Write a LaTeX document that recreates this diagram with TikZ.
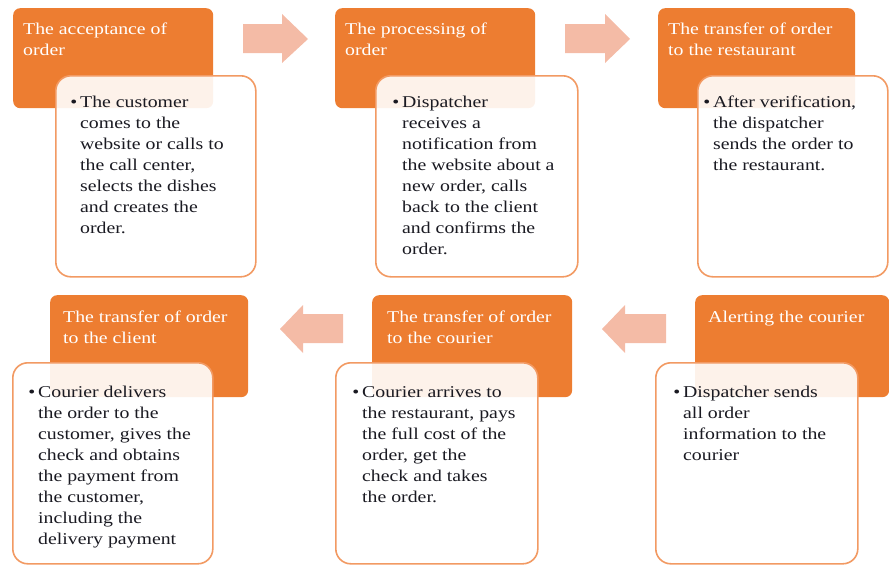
\documentclass[tikz,border=0pt]{standalone}
\usepackage{fontspec}
\setmainfont{Liberation Serif}[FakeStretch=1.2]
\definecolor{obg}{HTML}{ED7D31}
\definecolor{oline}{HTML}{F29A63}
\definecolor{arr}{HTML}{F4BBA6}
\definecolor{txt}{HTML}{1A1A22}
\begin{document}
\begin{tikzpicture}[x=1pt,y=-1pt,
  obox/.style={fill=obg,draw=none,rounded corners=7pt,anchor=north west,inner sep=0pt,
     minimum width=200pt,minimum height=100pt},
  wbox/.style={fill=white,fill opacity=0.9,draw=oline,draw opacity=1,line width=1.6pt,
     rounded corners=15pt,anchor=north west,inner sep=0pt,minimum width=200pt,minimum height=201pt},
  ttl/.style={anchor=base west,inner sep=0pt,align=left,text=white,
     font=\fontsize{16.5}{21.5}\selectfont},
  body/.style={anchor=base west,inner sep=0pt,align=left,text=txt,
     font=\fontsize{16.5}{21}\selectfont},
  blockarrow/.style={fill=arr,draw=none}]
\useasboundingbox (0,0) rectangle (889,565);
\newcommand{\bul}{\llap{\textbullet\hspace{3pt}}}
% orange title boxes
\node[obox] (o1) at (13,8) {};
\node[obox] (o2) at (335,8) {};
\node[obox,minimum width=197pt] (o3) at (658,8) {};
\node[obox,minimum width=198pt,minimum height=102pt] (o4) at (50,295) {};
\node[obox,minimum height=102pt] (o5) at (372,295) {};
\node[obox,minimum width=194pt,minimum height=102pt] (o6) at (695,295) {};
% titles (anchored at the baseline of their last line)
\node[ttl] (t1) at (23,55.5) {The acceptance of\\order};
\node[ttl] (t2) at (345,55.5) {The processing of\\order};
\node[ttl] (t3) at (668,55.5) {The transfer of order\\to the restaurant};
\node[ttl] (t4) at (63,343.5) {The transfer of order\\to the client};
\node[ttl] (t5) at (387,343.5) {The transfer of order\\to the courier};
\node[ttl] (t6) at (708,322) {Alerting the courier};
% white detail boxes
\node[wbox] (w1) at (55,75) {};
\node[wbox,minimum width=202pt] (w2) at (375,75) {};
\node[wbox,minimum width=190pt] (w3) at (697,75) {};
\node[wbox] (w4) at (12,362) {};
\node[wbox,minimum width=202pt] (w5) at (335,362) {};
\node[wbox,minimum width=202pt] (w6) at (655,362) {};
% body texts (anchored at the baseline of their last line)
\node[body] (b1) at (80,233) {\bul The customer\\comes to the\\website or calls to\\the call center,\\selects the dishes\\and creates the\\order.};
\node[body] (b2) at (402,254) {\bul Dispatcher\\receives a\\notification from\\the website about a\\new order, calls\\back to the client\\and confirms the\\order.};
\node[body] (b3) at (713,170) {\bul After verification,\\the dispatcher\\sends the order to\\the restaurant.};
\node[body] (b4) at (38,544) {\bul Courier delivers\\the order to the\\customer, gives the\\check and obtains\\the payment from\\the customer,\\including the\\delivery payment};
\node[body] (b5) at (362,502) {\bul Courier arrives to\\the restaurant, pays\\the full cost of the\\order, get the\\check and takes\\the order.};
\node[body] (b6) at (683,460) {\bul Dispatcher sends\\all order\\information to the\\courier};
% block arrows
\fill[blockarrow] (243,24) -- (282,24) -- (282,14) -- (308,39) -- (282,63) -- (282,53) -- (243,53) -- cycle;
\fill[blockarrow] (565,24) -- (605,24) -- (605,14) -- (630,39) -- (605,63) -- (605,53) -- (565,53) -- cycle;
\fill[blockarrow] (343,314) -- (303,314) -- (303,305) -- (280,329) -- (303,353) -- (303,343) -- (343,343) -- cycle;
\fill[blockarrow] (666,314) -- (625,314) -- (625,305) -- (602,329) -- (625,353) -- (625,343) -- (666,343) -- cycle;
\end{tikzpicture}
\end{document}
